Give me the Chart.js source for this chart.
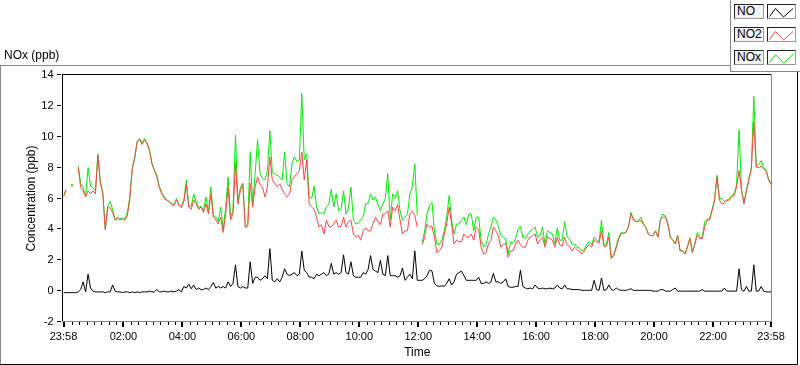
<!DOCTYPE html>
<html>
<head>
<meta charset="utf-8">
<title>NOx (ppb)</title>
<script src="https://cdn.jsdelivr.net/npm/chart.js@4/dist/chart.umd.min.js"></script>
<style>
  html, body { margin: 0; padding: 0; background: #fff; overflow: hidden; }
  #wrap { position: relative; width: 800px; height: 365px; font-family: "Liberation Sans", Arial, sans-serif; }
  #title { position: absolute; left: 4px; top: 48px; font-size: 12px; line-height: 14px; color: #000; }
  .lg-row { position: absolute; left: 734px; height: 15px; }
  .lg-name { position: absolute; left: 0; top: 0; width: 28px; height: 13px; border: 1px solid; border-color: #222 #9a9a9a #9a9a9a #222;
             background: #f3f3f3; font-size: 12px; line-height: 13px; padding-left: 2px; box-sizing: content-box; width: 26px; color: #000; }
  .lg-icon { position: absolute; left: 33px; top: 0; width: 27px; height: 13px; border: 1px solid; border-color: #222 #9a9a9a #9a9a9a #222; background: #fff; }
</style>
</head>
<body>
<div id="wrap">
  <canvas id="chart" width="800" height="365"></canvas>
  <div id="title">NOx (ppb)</div>
  <div id="legend"></div>
</div>
<script>
// one sample every 5 minutes, starting 23:58
const sampleStep = 5;

const seriesNames = ["NO", "NO2", "NOx"];
const seriesColors = ["#000000", "#ff4545", "#00ee00"];

const no = [
  -0.1, -0.1, -0.1, -0.1, -0.1, -0.1, -0.05, 0.1, 0.6, -0.05,
  1.1, 0.2, 0.0, -0.05, -0.05, -0.05, -0.05, -0.1, -0.05, -0.05,
  0.4, 0.0, -0.05, -0.05, -0.1, -0.05, -0.05, -0.1, -0.05, -0.1,
  -0.05, -0.1, -0.05, -0.05, -0.05, 0.0, -0.05, -0.05, 0.1, -0.05,
  -0.05, 0.0, -0.05, -0.05, 0.0, -0.05, 0.0, 0.1, -0.05, 0.3,
  0.2, 0.45, 0.15, 0.4, 0.1, 0.2, 0.1, 0.1, 0.2, 0.1,
  0.3, 0.55, 0.2, 0.3, 0.2, 0.3, 0.2, 0.6, 0.3, 0.5,
  1.7, 0.3, 0.2, 0.3, 0.2, 0.2, 1.9, 0.5, 0.9, 0.9,
  0.7, 0.8, 1.0, 0.8, 2.75, 0.7, 0.6, 0.8, 0.6, 0.9,
  1.45, 1.1, 1.0, 1.1, 1.2, 1.0, 1.1, 2.6, 1.35, 1.2,
  0.9, 0.9, 0.8, 1.1, 1.0, 1.1, 1.2, 1.0, 1.1, 1.8,
  1.1, 1.2, 1.1, 1.2, 2.35, 1.2, 1.1, 1.9, 1.0, 0.9,
  0.9, 0.9, 1.2, 1.1, 1.4, 2.3, 1.4, 1.3, 1.2, 2.0,
  1.1, 1.0, 2.3, 1.0, 1.0, 1.0, 0.9, 1.0, 1.5, 0.7,
  0.9, 1.1, 0.8, 2.6, 0.7, 0.7, 0.7, 0.8, 1.0, 1.35,
  1.3, 0.5, 0.35, 0.3, 0.35, 0.3, 0.5, 0.8, 0.4, 0.6,
  1.1, 1.2, 1.3, 1.0, 0.7, 0.7, 0.7, 0.7, 0.7, 0.9,
  0.5, 0.5, 0.6, 0.5, 0.6, 1.15, 0.6, 0.6, 0.5, 0.6,
  0.8, 0.3, 0.25, 0.25, 0.3, 0.3, 1.35, 0.3, 0.2, 0.15,
  0.2, 0.15, 0.4, 0.2, 0.15, 0.2, 0.15, 0.15, 0.2, 0.15,
  0.2, 0.4, 0.2, 0.15, 0.4, 0.15, 0.15, 0.1, 0.1, 0.1,
  0.1, 0.05, 0.05, 0.05, 0.05, 0.05, 0.7, 0.1, 0.05, 0.85,
  0.05, 0.1, 0.4, 0.1, 0.05, 0.2, 0.1, 0.05, 0.05, 0.05,
  0.1, 0.15, 0.05, 0.05, 0.05, 0.05, 0.05, 0.05, 0.05, 0.05,
  0.0, 0.0, 0.0, 0.1, 0.1, 0.0, 0.0, 0.0, 0.1, 0.2,
  0.0, 0.0, 0.0, 0.0, 0.0, 0.0, 0.0, 0.0, 0.0, 0.0,
  0.1, 0.0, 0.0, 0.0, 0.0, 0.0, 0.0, 0.0, 0.0, 0.2,
  0.0, 0.0, 0.0, 0.0, 0.0, 1.45, 0.1, 0.0, 0.3, 0.0,
  0.0, 1.7, 0.0, 0.0, 0.3, 0.0, -0.05, -0.05, -0.05
];

const no2 = [
  6.1, 6.5, null, 6.8, 6.8, null, 8.0, 6.7, 6.5, 6.1,
  6.5, 6.3, 6.5, 6.3, 8.8, 7.0, 6.3, 4.0, 5.4, 5.4,
  5.1, 4.6, 4.7, 4.6, 4.7, 4.6, 4.9, 6.0, 7.9, 8.6,
  9.65, 9.8, 9.5, 9.8, 9.55, 9.1, 8.25, 7.8, 7.4, 6.7,
  6.3, 6.0, 5.9, 5.8, 5.6, 5.55, 5.9, 5.55, 5.4, 5.8,
  6.9, 5.45, 5.3, 5.9, 5.65, 5.3, 5.45, 5.1, 5.65, 5.0,
  6.3, 4.8, 4.6, 4.35, 4.8, 3.8, 5.0, 6.7, 4.6, 5.0,
  8.25, 5.65, 6.5, 6.9, 4.1, 4.2, 7.0, 5.45, 6.75, 7.4,
  6.9, 6.75, 6.1, 6.75, 8.7, 7.2, 7.0, 6.75, 6.95, 6.6,
  6.3, 6.1, 6.3, 7.2, 7.4, 7.6, 7.8, 9.0, 7.2, 8.5,
  5.65, 5.45, 5.3, 4.8, 4.15, 4.3, 3.7, 4.6, 4.2, 4.15,
  4.35, 4.6, 4.15, 4.2, 4.8, 4.15, 4.5, 4.6, 3.7, 3.5,
  3.6, 3.3, 3.9, 4.1, 3.9, 3.9, 4.35, 4.8, 4.5, 4.3,
  5.0, 5.0, 5.2, 4.15, 5.45, 5.2, 5.6, 4.6, 3.7, 3.9,
  3.9, 5.0, 5.2, 4.9, 4.15, null, 3.0, 3.5, 4.35, 4.15,
  4.2, 3.5, 2.5, 2.6, 2.85, 3.7, 4.35, 5.45, 4.35, 3.05,
  3.3, 3.2, 3.2, 3.7, 3.5, 3.5, 3.7, 3.3, 4.15, 4.0,
  2.85, 2.4, 2.5, 3.05, 3.3, 4.15, 3.9, 3.6, 2.85, 3.0,
  3.1, 2.2, 2.6, 2.6, 3.05, 3.3, 3.0, 2.85, 2.85, 3.3,
  3.5, 3.6, 3.7, 3.05, 3.3, 3.5, 2.85, 3.5, 3.4, 3.3,
  2.85, 3.5, 3.0, 2.9, 3.5, 3.0, 2.9, 2.6, 2.85, 2.7,
  2.6, 2.4, 2.6, 2.85, 3.0, 2.85, 3.3, 3.2, 3.1, 3.9,
  2.9, 2.9, 3.5, 2.1, 2.3, 2.8, 3.4, 3.7, 3.75, 3.8,
  4.15, 5.0, 4.6, 4.5, 4.5, 4.6, 4.3, 4.15, 3.7, 3.6,
  3.6, 3.9, 3.5, 4.6, 4.8, 4.8, 4.35, 3.5, 3.3, 3.05,
  3.6, 2.6, 2.6, 2.4, 2.85, 3.4, 2.5, 3.05, 3.6, 3.4,
  3.4, 4.15, 4.6, 4.6, 5.2, 5.85, 7.4, 5.9, 5.65, 5.7,
  5.85, 5.9, 6.1, 6.2, 6.75, 7.8, 6.5, 5.65, 6.5, 7.2,
  7.9, 10.95, 8.0, 8.0, 8.1, 7.9, 7.8, 7.2, 6.9
];

const nox = [
  6.2, 6.6, null, 6.9, 6.9, null, 8.1, 7.0, 6.7, 6.2,
  8.0, 6.8, 6.7, 6.5, 8.9, 7.1, 6.4, 4.0, 5.5, 5.8,
  5.3, 4.6, 4.8, 4.7, 4.7, 4.7, 5.1, 6.1, 8.0, 8.7,
  9.75, 9.9, 9.6, 9.9, 9.6, 9.2, 8.3, 7.85, 7.5, 6.8,
  6.4, 6.1, 5.9, 5.8, 5.7, 5.6, 6.0, 5.6, 5.5, 5.9,
  7.2, 5.5, 5.5, 6.3, 5.8, 5.4, 5.5, 5.2, 6.1, 5.1,
  6.75, 4.9, 4.8, 4.5, 5.45, 4.0, 5.4, 7.4, 4.8, 5.2,
  10.1, 5.8, 6.7, 7.0, 4.2, 4.3, 9.0, 5.6, 7.6, 9.8,
  7.6, 7.3, 7.2, 7.8, 10.4, 7.7, 7.6, 7.5, 7.4, 7.2,
  9.0, 6.95, 6.75, 8.25, 8.7, 8.4, 8.5, 12.8, 8.5, 8.9,
  6.1, 6.0, 6.8, 5.45, 5.0, 5.1, 5.0, 5.45, 5.6, 6.6,
  5.45, 6.3, 5.2, 5.3, 6.5, 5.0, 5.4, 6.75, 4.6, 4.35,
  4.4, 4.6, 4.8, 5.65, 5.7, 6.3, 5.9, 6.1, 5.6, 5.2,
  5.65, 6.0, 7.6, 4.6, 6.3, 6.0, 6.5, 5.2, 4.6, 4.8,
  5.0, 6.3, 6.75, 8.25, 4.9, null, 3.1, 3.9, 5.0, 5.55,
  5.75, 3.9, 3.05, 3.0, 3.3, 3.9, 4.8, 6.2, 4.6, 3.7,
  4.35, 4.35, 4.6, 4.8, 4.3, 5.0, 5.0, 3.9, 4.8, 4.8,
  3.3, 2.85, 3.0, 3.7, 4.15, 4.8, 4.6, 4.2, 3.6, 3.5,
  3.4, 2.4, 3.2, 3.1, 3.4, 4.0, 4.2, 3.5, 3.4, 3.7,
  3.9, 4.0, 4.15, 3.5, 3.6, 4.15, 3.05, 3.9, 3.8, 3.7,
  3.05, 4.1, 3.3, 3.3, 4.5, 3.5, 3.4, 3.05, 3.05, 2.85,
  2.8, 2.6, 2.7, 3.05, 3.2, 3.0, 3.5, 3.3, 3.2, 4.6,
  3.0, 3.0, 3.8, 2.15, 2.35, 2.9, 3.5, 3.8, 3.75, 3.85,
  4.2, 5.1, 4.7, 4.5, 4.55, 4.8, 4.4, 4.15, 3.75, 3.6,
  3.6, 3.9, 3.55, 4.7, 5.0, 4.85, 4.4, 3.55, 3.3, 3.05,
  3.6, 2.65, 2.6, 2.4, 2.9, 3.45, 2.5, 3.1, 3.8, 3.5,
  3.45, 4.5, 4.65, 4.7, 5.3, 5.9, 7.5, 6.0, 6.0, 5.8,
  5.9, 6.0, 6.2, 6.3, 6.9, 10.45, 6.6, 5.7, 6.55, 7.3,
  8.0, 12.6, 8.1, 8.2, 8.45, 8.0, 7.85, 7.3, 6.95
];

// x axis is minutes since 23:58
const xTickMinutes = [0, 122, 242, 362, 482, 602, 722, 842, 962, 1082, 1202, 1322, 1440];
const xTickLabels = ["23:58", "02:00", "04:00", "06:00", "08:00", "10:00", "12:00",
                     "14:00", "16:00", "18:00", "20:00", "22:00", "23:58"];
const yTickValues = [-2, 0, 2, 4, 6, 8, 10, 12, 14];

const minutes = no.map((v, i) => i * sampleStep);

// legend boxes
const legend = document.getElementById("legend");
seriesNames.forEach((name, i) => {
  const row = document.createElement("div");
  row.className = "lg-row";
  row.style.top = (4 + i * 23.2) + "px";
  row.innerHTML = '<div class="lg-name">' + name + '</div>' +
    '<div class="lg-icon"><svg width="27" height="13"><polyline points="1.5,10.5 7.5,2.5 15.5,11 25,2.5" ' +
    'fill="none" stroke="' + seriesColors[i] + '" stroke-width="1"/></svg></div>';
  legend.appendChild(row);
});

function hline(ctx, color, x1, x2, y) {
  ctx.strokeStyle = color;
  ctx.beginPath();
  ctx.moveTo(x1, y);
  ctx.lineTo(x2, y);
  ctx.stroke();
}
function vline(ctx, color, x, y1, y2) {
  ctx.strokeStyle = color;
  ctx.beginPath();
  ctx.moveTo(x, y1);
  ctx.lineTo(x, y2);
  ctx.stroke();
}

// LabVIEW style frames and tick marks
const framePlugin = {
  id: "frame",
  afterDraw(chart) {
    const ctx = chart.ctx;
    const xs = chart.scales.x, ys = chart.scales.y;
    ctx.save();
    ctx.lineWidth = 1;
    // outer panel
    hline(ctx, "#888", 0, 731, 65.5);
    vline(ctx, "#888", 0.5, 65, 365);
    vline(ctx, "#888", 730.5, 0, 72);
    hline(ctx, "#888", 730, 800, 71.5);
    vline(ctx, "#000", 797.5, 72, 365);
    hline(ctx, "#000", 0, 798, 364.5);
    // plot area
    hline(ctx, "#000", 62, 772, 74.5);
    vline(ctx, "#000", 62.5, 74, 322);
    vline(ctx, "#888", 771.5, 74, 322);
    hline(ctx, "#888", 62, 772, 321.5);
    // ticks
    ctx.fillStyle = "#000";
    yTickValues.forEach(v => {
      ctx.fillRect(57, Math.round(ys.getPixelForValue(v)) - 1, 4, 1);
    });
    for (let t = 17; t < 1440; t += 15) {
      if (xTickMinutes.indexOf(t) >= 0 || (t - 2) % 120 === 0) continue;
      ctx.fillRect(Math.round(xs.getPixelForValue(t)), 322, 1, 3);
    }
    xTickMinutes.forEach(t => {
      ctx.fillRect(Math.round(xs.getPixelForValue(t)) - 1, 322, 2, 5);
    });
    ctx.restore();
  }
};

Chart.defaults.font.family = '"Liberation Sans", Arial, sans-serif';
Chart.defaults.color = "#000";

const datasets = [no, no2, nox].map((vals, i) => ({
  label: seriesNames[i],
  data: vals,
  borderColor: seriesColors[i],
  backgroundColor: seriesColors[i],
  borderWidth: 1,
  pointRadius: 0,
  tension: 0,
  spanGaps: false,
  fill: false
}));

new Chart(document.getElementById("chart"), {
  type: "line",
  data: { labels: minutes, datasets: datasets },
  options: {
    responsive: false,
    animation: false,
    layout: { padding: { top: 75, right: 29, left: 0, bottom: 0 } },
    plugins: { legend: { display: false }, tooltip: { enabled: false } },
    scales: {
      x: {
        type: "linear",
        min: 0,
        max: 1440,
        afterBuildTicks: s => { s.ticks = xTickMinutes.map(v => ({ value: v })); },
        afterFit: s => { s.height = 43; },
        ticks: {
          autoSkip: false,
          maxRotation: 0,
          padding: 8,
          font: { size: 11 },
          callback: (v, i) => xTickLabels[i]
        },
        grid: { display: false, drawTicks: false },
        border: { display: false },
        title: { display: true, text: "Time", font: { size: 12 }, padding: { top: 0, bottom: 5 } }
      },
      y: {
        min: -2,
        max: 14,
        afterBuildTicks: s => { s.ticks = yTickValues.map(v => ({ value: v })); },
        afterFit: s => { s.width = 63.5; },
        ticks: { padding: 10, font: { size: 11 } },
        grid: { display: false, drawTicks: false },
        border: { display: false },
        title: { display: true, text: "Concentration (ppb)", font: { size: 12 }, padding: { top: 24, bottom: 0 } }
      }
    }
  },
  plugins: [framePlugin]
});
</script>
</body>
</html>
